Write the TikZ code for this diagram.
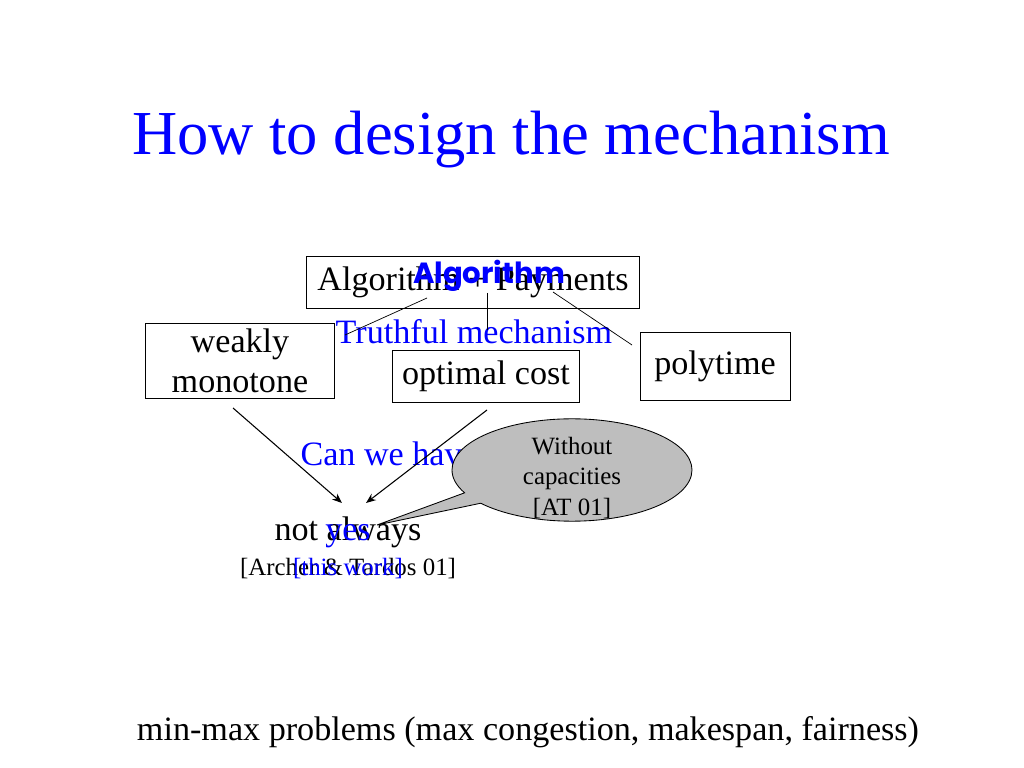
\documentclass[tikz,border=0pt]{standalone}
\usepackage{fontspec}
\setmainfont{Liberation Serif}
\newfontfamily\comicfont{Poppins}
\usetikzlibrary{shapes.callouts,arrows.meta}
\definecolor{slideblue}{RGB}{0,0,255}
\definecolor{calloutgray}{RGB}{190,190,190}
\begin{document}
\begin{tikzpicture}[x=0.703125pt, y=-0.703125pt, line width=0.75pt,
    body/.style={font=\fontsize{24}{28}\selectfont},
    small/.style={font=\fontsize{17.5}{21.5}\selectfont},
    goalbox/.style={rectangle, draw, line width=0.6pt, body, align=center, inner sep=0pt},
    hand/.style={text=slideblue, inner sep=0pt}]
    \useasboundingbox (0,0) rectangle (1024,768);
    \node[text=slideblue, font=\fontsize{44}{50}\selectfont, anchor=base, inner sep=0pt] (title) at (511,155) {How to design the mechanism};

    \node[goalbox, minimum width=234pt, minimum height=36.6pt] (ap) at (473,282) {Algorithm + Payments};
    \node[hand, font=\comicfont\bfseries\fontsize{20.5}{24}\selectfont, anchor=base] (algo) at (489,284) {Algorithm};
    \node[goalbox, minimum width=133pt, minimum height=52.7pt] (weak) at (240,361) {weakly\\monotone};
    \node[goalbox, minimum width=131.5pt, minimum height=36.6pt] (optcost) at (486,376) {optimal cost};
    \node[goalbox, minimum width=105.5pt, minimum height=47.8pt] (poly) at (715,366) {polytime};
    \node[hand, body, anchor=base] (truthful) at (474,343) {Truthful mechanism};

    % lines from the box down to the goals
    \coordinate (apl) at (427,298);
    \coordinate (apm) at (487,293);
    \coordinate (apr) at (553,292);
    \coordinate (gl) at (345,335);
    \coordinate (gm) at (487,330);
    \coordinate (gr) at (632,345);
    \draw[line width=0.5pt] (apl) -- (gl);
    \draw[line width=0.5pt] (apm) -- (gm);
    \draw[line width=0.5pt] (apr) -- (gr);

    \node[hand, body, anchor=base west] (canwe) at (300,465) {Can we have};

    % the two arrows meet at the answer
    \coordinate (weakout) at (233,408);
    \coordinate (optout) at (487,410);
    \coordinate (meetl) at (342,503);
    \coordinate (meetr) at (366,503);
    \draw[-{Stealth[length=7pt,width=5.5pt]}] (weakout) -- (meetl);
    \draw[-{Stealth[length=7pt,width=5.5pt]}] (optout) -- (meetr);

    \node[body, anchor=base, inner sep=0pt] (notalways) at (348,540) {not always};
    \node[hand, body, anchor=base] (yes) at (348,540) {yes};
    \node[small, anchor=base, inner sep=0pt] (archer) at (348,575) {[Archer \& Tardos 01]};
    \node[hand, small, anchor=base] (thiswork) at (348,575) {[this work]};

    \coordinate (tip) at (377,525);
    \node[ellipse callout, draw, line width=0.6pt, fill=calloutgray, inner sep=0pt,
          minimum width=168.75pt, minimum height=72pt, callout pointer arc=14,
          callout absolute pointer={(tip)}] (callout) at (572,470) {};
    \node[small, align=center, inner sep=0pt] (callouttext) at (572,478) {Without\\capacities\\{}[AT 01]};

    \node[body, anchor=base, inner sep=0pt] (minmax) at (528,740) {min-max problems (max congestion, makespan, fairness)};
\end{tikzpicture}
\end{document}
